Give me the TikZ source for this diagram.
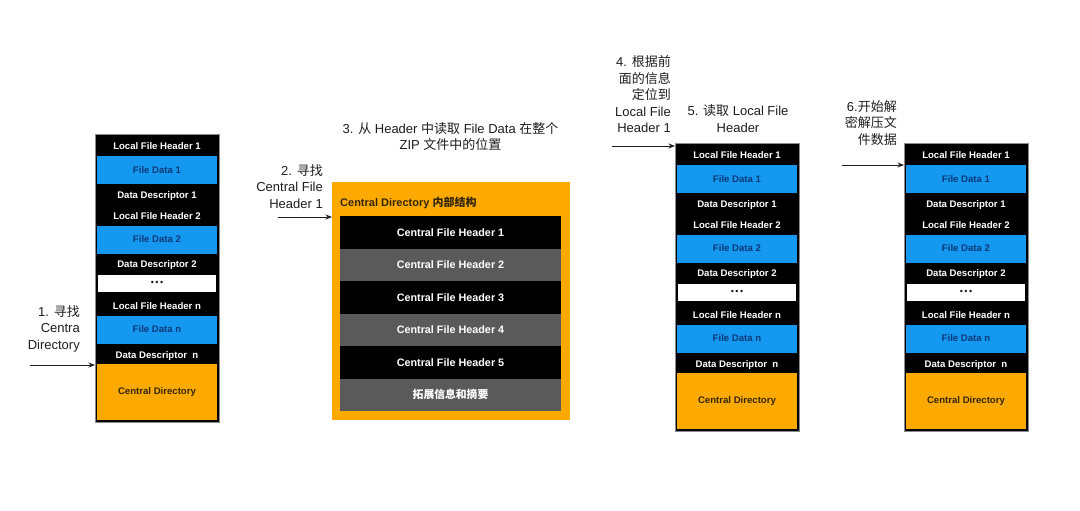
\documentclass[tikz,border=0pt]{standalone}
\usepackage{fontspec}
\setmainfont{Liberation Sans}
\newfontfamily\cjkfont{Noto Sans CJK SC}
\newcommand\zh[1]{{\cjkfont #1}}
\usetikzlibrary{arrows.meta}
\definecolor{zorange}{HTML}{FDAA00}
\definecolor{zblue}{HTML}{1598F0}
\definecolor{zdblue}{HTML}{0B3A78}
\definecolor{zbrown}{HTML}{33260A}
\definecolor{zgray}{HTML}{5A5A5A}
\definecolor{zborder}{HTML}{8A8A8A}
\definecolor{zlabel}{HTML}{1E1E1E}
\tikzset{
  lbl/.style={font=\fontsize{13}{16.5}\selectfont, text=zlabel, inner sep=0pt},
  arr/.style={-{Stealth[length=6.5pt,width=5pt]}, line width=0.9pt, draw=zlabel},
  colframe/.style={draw=zborder, fill=black, line width=1pt, minimum width=124pt, minimum height=288pt, inner sep=0pt, anchor=north west},
  coltxt/.style={font=\fontsize{9.6}{11}\selectfont\bfseries, text=white, inner sep=0pt},
  bluebar/.style={fill=zblue, minimum width=120pt, minimum height=28pt, inner sep=0pt, text=zdblue, font=\fontsize{9.6}{11}\selectfont\bfseries},
  dotbar/.style={fill=white, minimum width=118pt, minimum height=17pt, inner sep=0pt, text=zlabel, font=\fontsize{9}{10}\selectfont},
  cdbar/.style={fill=zorange, minimum width=120pt, minimum height=56pt, inner sep=0pt, text=zbrown, font=\fontsize{9.6}{11}\selectfont\bfseries},
  cfrow/.style={minimum width=221pt, minimum height=32.5pt, inner sep=0pt, text=white, font=\fontsize{10.8}{12}\selectfont\bfseries},
}
\newcommand\zipcolumn[3]{%
  \begin{scope}[shift={(#2,#3)}]
    \node[colframe] (#1) at (0,0) {};
    \node[coltxt] (#1lfh1) at (62,12.5) {Local File Header 1};
    \node[bluebar] (#1fd1) at (62,36) {File Data 1};
    \node[coltxt] (#1dd1) at (62,62) {Data Descriptor 1};
    \node[coltxt] (#1lfh2) at (62,82) {Local File Header 2};
    \node[bluebar] (#1fd2) at (62,105.5) {File Data 2};
    \node[coltxt] (#1dd2) at (62,131) {Data Descriptor 2};
    \node[dotbar] (#1dots) at (62,149.5) {•\kern1.5pt•\kern1.5pt•};
    \node[coltxt] (#1lfhn) at (62,172) {Local File Header n};
    \node[bluebar] (#1fdn) at (62,195.5) {File Data n};
    \node[coltxt] (#1ddn) at (62,222) {Data Descriptor\ \ n};
    \node[cdbar] (#1cd) at (62,258) {Central Directory};
  \end{scope}}
\begin{document}
\begin{tikzpicture}[x=1pt,y=-1pt]
\useasboundingbox (0,0) rectangle (1080,511);
\fill[white] (0,0) rectangle (1080,511);

% columns
\zipcolumn{ca}{95}{134}
\zipcolumn{cc}{675}{143}
\zipcolumn{cd}{904}{143}

% central directory detail
\node[fill=zorange, minimum width=238pt, minimum height=238pt, inner sep=0pt, anchor=north west] (cdbox) at (332,182) {};
\node[anchor=west, inner sep=0pt, text=zbrown, font=\fontsize{11}{13}\selectfont\bfseries] (cdtitle) at (340,203) {Central Directory \zh{内部结构}};
\node[cfrow, fill=black] (h1) at (450.5,232.25) {Central File Header 1};
\node[cfrow, fill=zgray] (h2) at (450.5,264.75) {Central File Header 2};
\node[cfrow, fill=black] (h3) at (450.5,297.25) {Central File Header 3};
\node[cfrow, fill=zgray] (h4) at (450.5,329.75) {Central File Header 4};
\node[cfrow, fill=black] (h5) at (450.5,362.25) {Central File Header 5};
\node[cfrow, fill=zgray] (h6) at (450.5,394.75) {\zh{\bfseries 拓展信息和摘要}};

% labels
\node[lbl, anchor=east, align=right] (l1) at (80,328.5) {1. \zh{寻找}\\Centra\\Directory};
\node[lbl, anchor=east, align=right] (l2) at (323,186.5) {2. \zh{寻找}\\Central File\\Header 1};
\node[lbl, align=center] (l3) at (450.5,136.5) {3. \zh{从} Header \zh{中读取} File Data \zh{在整个}\\ZIP \zh{文件中的位置}};
\node[lbl, anchor=east, align=right] (l4) at (671,94.5) {4. \zh{根据前}\\\zh{面的信息}\\\zh{定位到}\\Local File\\Header 1};
\node[lbl, align=center] (l5) at (738,118.5) {5. \zh{读取} Local File\\Header};
\node[lbl, anchor=east, align=right] (l6) at (897,123) {6.\zh{开始解}\\\zh{密解压文}\\\zh{件数据}};

% arrows
\coordinate (a1s) at (30,365);
\coordinate (a2s) at (278,217);
\coordinate (a4s) at (612,146);
\coordinate (a6s) at (842,165);
\draw[arr] (a1s) -- (a1s -| ca.west);
\draw[arr] (a2s) -- (a2s -| cdbox.west);
\draw[arr] (a4s) -- (a4s -| cc.west);
\draw[arr] (a6s) -- (a6s -| cd.west);
\end{tikzpicture}
\end{document}
